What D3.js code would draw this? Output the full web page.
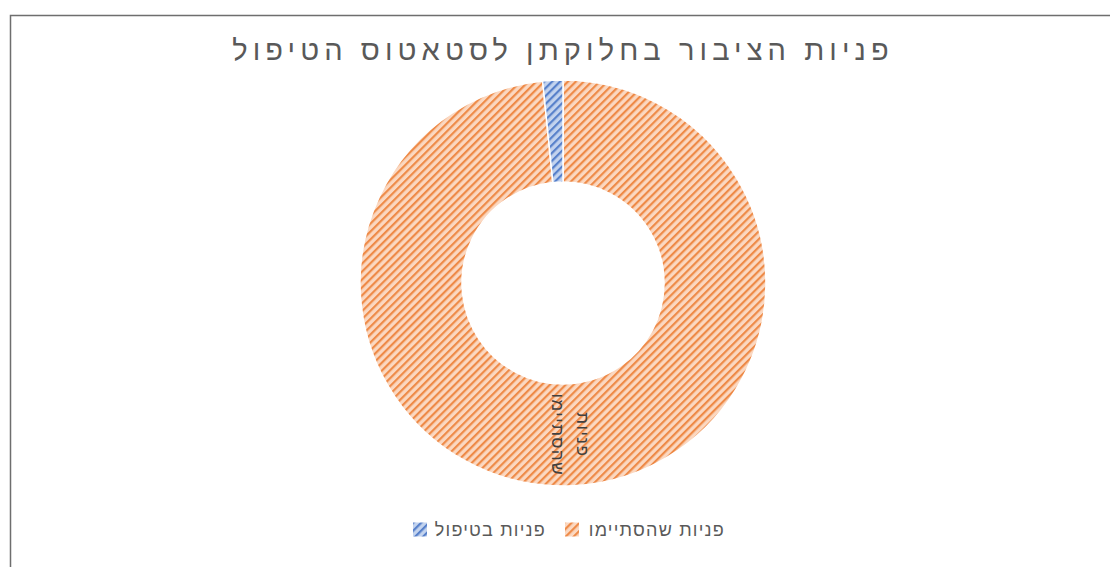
<!DOCTYPE html>
<html lang="he">
<head>
<meta charset="utf-8">
<script src="https://cdn.jsdelivr.net/npm/d3@7"></script>
<style>
  html, body { margin: 0; padding: 0; background: #fff; }
  svg { display: block; font-family: "Liberation Sans", Arial, "DejaVu Sans", sans-serif; }
</style>
</head>
<body>
<svg id="chart" width="1110" height="567"></svg>
<script>
// Chart data
const title = "פניות הציבור בחלוקתן לסטאטוס הטיפול";
const categories = ["פניות שהסתיימו", "פניות בטיפול"];
const values = [98.4, 1.6];
const sliceLabels = [["פניות", "שהסתיימו"], []];
const fills = ["#ed7d31", "#4472c4"];
const lightFills = ["#fbd8c1", "#c3d3ee"];

const svg = d3.select("#chart");

// Chart frame
svg.append("rect")
  .attr("x", 10.5).attr("y", 15.5)
  .attr("width", 1300).attr("height", 700)
  .attr("fill", "#fff")
  .attr("stroke", "#6e6e6e").attr("stroke-width", 1.5);

// Hatch patterns (upward diagonal stripes)
const defs = svg.append("defs");
categories.forEach((c, i) => {
  const p = defs.append("pattern")
    .attr("id", "hatch" + i)
    .attr("patternUnits", "userSpaceOnUse")
    .attr("width", 5.6).attr("height", 5.6)
    .attr("patternTransform", "rotate(-45)");
  p.append("rect").attr("width", 5.6).attr("height", 5.6).attr("fill", lightFills[i]);
  p.append("rect").attr("x", 0).attr("y", 0).attr("width", 5.6).attr("height", 2.2)
    .attr("fill", fills[i]).attr("opacity", 0.85);
});

// Title
svg.append("text")
  .attr("x", 563).attr("y", 60)
  .attr("text-anchor", "middle")
  .attr("direction", "rtl")
  .attr("font-size", 29)
  .attr("letter-spacing", 5.1)
  .attr("fill", "#595959")
  .text(title);

// Doughnut
const cx = 563, cy = 283;
const outerR = 203, innerR = 101;
const pie = d3.pie().sort(null).value(d => d)(values);
const arc = d3.arc().innerRadius(innerR).outerRadius(outerR);
const labelArc = d3.arc().innerRadius((innerR + outerR) / 2).outerRadius((innerR + outerR) / 2);

const g = svg.append("g").attr("transform", `translate(${cx},${cy})`);
g.selectAll("path.slice")
  .data(pie)
  .join("path")
  .attr("class", "slice")
  .attr("d", arc)
  .attr("fill", (d, i) => `url(#hatch${i})`)
  .attr("stroke", "#fff")
  .attr("stroke-width", 1.5);

// Slice labels, rotated along the ring
pie.forEach((d, i) => {
  const lines = sliceLabels[i];
  if (!lines.length) return;
  const [lx, ly] = labelArc.centroid(d);
  const t = g.append("text")
    .attr("transform", `translate(${lx},${ly}) rotate(90)`)
    .attr("text-anchor", "middle")
    .attr("direction", "rtl")
    .attr("font-size", 17)
    .attr("letter-spacing", 1.5)
    .attr("fill", "#404040");
  const lh = 25;
  lines.forEach((ln, k) => {
    t.append("tspan")
      .attr("x", 0)
      .attr("y", (k - (lines.length - 1) / 2) * lh + 6)
      .text(ln);
  });
});

// Legend (right-to-left order)
const legend = svg.append("g").attr("class", "legend");
const legendItems = [
  { i: 0, sw: 565, tx: 725 },
  { i: 1, sw: 413, tx: 546 }
];
legendItems.forEach(it => {
  legend.append("rect")
    .attr("x", it.sw).attr("y", 522.5)
    .attr("width", 14).attr("height", 14)
    .attr("fill", `url(#hatch${it.i})`);
  legend.append("text")
    .attr("x", it.tx).attr("y", 536)
    .attr("text-anchor", "start")
    .attr("direction", "rtl")
    .attr("font-size", 18)
    .attr("letter-spacing", 1.2)
    .attr("fill", "#595959")
    .text(categories[it.i]);
});
</script>
</body>
</html>
